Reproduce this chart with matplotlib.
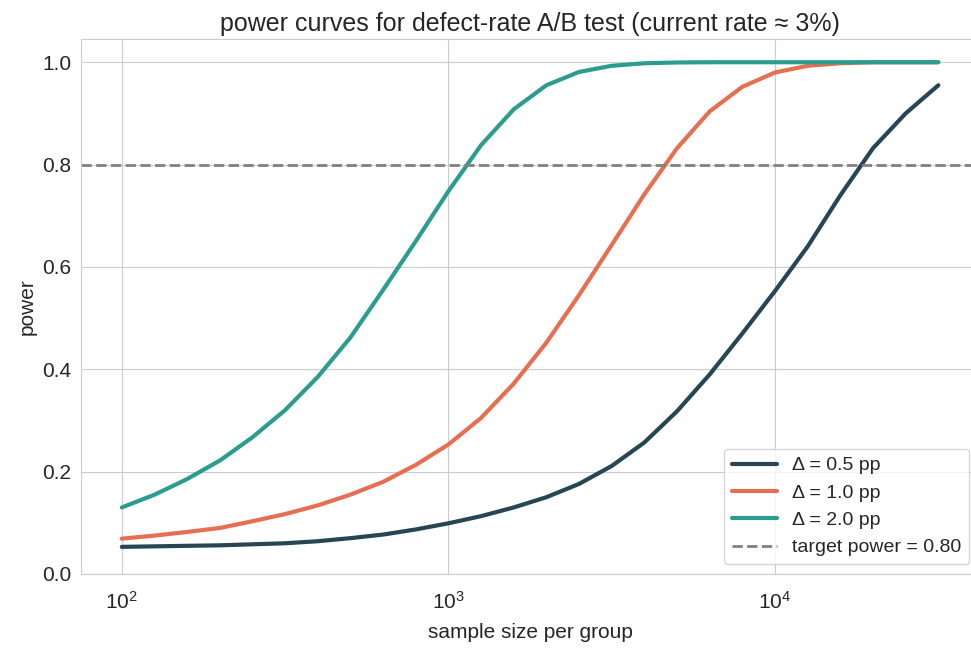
import numpy as np
import matplotlib
matplotlib.use("Agg")
import matplotlib.pyplot as plt
import seaborn as sns

sns.set_style("whitegrid")
plt.rcParams['font.family'] = ['Liberation Sans', 'DejaVu Sans']
plt.rcParams['mathtext.fontset'] = 'custom'
plt.rcParams['mathtext.rm'] = 'Liberation Sans'

# sample size per group
n = [100, 126, 158, 200, 251, 316, 398, 501, 631, 794,
     1000, 1259, 1585, 1995, 2512, 3162, 3981, 5012, 6310, 7943,
     10000, 12589, 15849, 19953, 25119, 31623]

# power for each effect size
p_05 = [0.053, 0.054, 0.055, 0.056, 0.058, 0.060, 0.064, 0.070, 0.077, 0.087,
        0.099, 0.113, 0.130, 0.150, 0.176, 0.211, 0.257, 0.318, 0.390, 0.470,
        0.553, 0.640, 0.740, 0.832, 0.900, 0.955]
p_10 = [0.069, 0.075, 0.082, 0.090, 0.103, 0.117, 0.134, 0.155, 0.180, 0.213,
        0.253, 0.305, 0.372, 0.452, 0.545, 0.643, 0.742, 0.832, 0.904, 0.952,
        0.980, 0.993, 0.998, 1.000, 1.000, 1.000]
p_20 = [0.130, 0.155, 0.185, 0.222, 0.267, 0.320, 0.385, 0.462, 0.555, 0.650,
        0.748, 0.838, 0.908, 0.955, 0.981, 0.993, 0.998, 0.9995, 1.000, 1.000,
        1.000, 1.000, 1.000, 1.000, 1.000, 1.000]

labels = ['Δ = 0.5 pp', 'Δ = 1.0 pp', 'Δ = 2.0 pp']
colors = ['#264653', '#e76f51', '#2a9d8f']
target = 0.80

fig = plt.figure(figsize=(9.71, 6.49), dpi=100)
ax = fig.add_axes([0.0834, 0.1156, 0.925, 0.824])

for p, lab, c in zip([p_05, p_10, p_20], labels, colors):
    ax.plot(n, p, color=c, lw=3, label=lab)
ax.axhline(target, color='gray', ls='--', lw=2, label='target power = %.2f' % target)

ax.set_xscale('log')
ax.set_ylim(0, 1.045)
ax.set_title('power curves for defect-rate A/B test (current rate ≈ 3%)', fontsize=18)
ax.set_xlabel('sample size per group', fontsize=15, labelpad=7)
ax.set_ylabel('power', fontsize=15)
ax.tick_params(labelsize=15)
ax.tick_params(axis='x', pad=9)
ax.legend(loc='lower right', fontsize=14, handlelength=2.3)

fig.savefig('out.png', dpi=100)
